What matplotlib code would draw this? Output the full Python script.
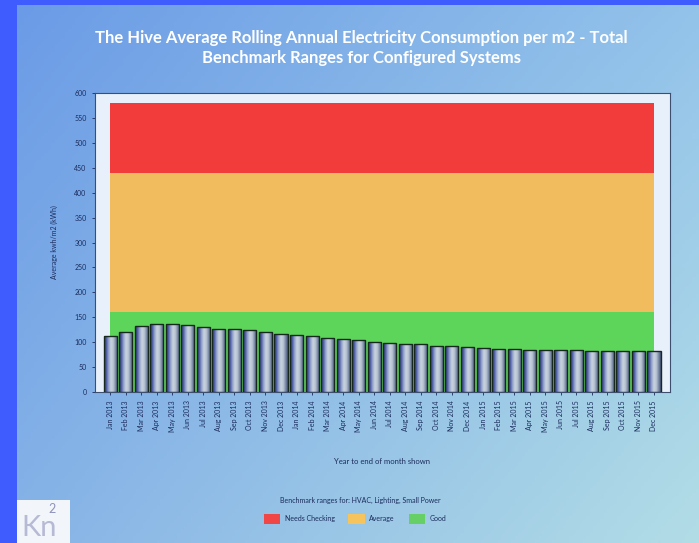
import numpy as np
import matplotlib
matplotlib.use("Agg")
import matplotlib.pyplot as plt
from matplotlib.colors import LinearSegmentedColormap, to_rgb
from matplotlib.patches import Patch, Rectangle

plt.rcParams['font.family'] = ['Lato', 'DejaVu Sans']

# Rolling annual electricity use per m2, Jan 2013 - Dec 2015
months = ['Jan', 'Feb', 'Mar', 'Apr', 'May', 'Jun',
          'Jul', 'Aug', 'Sep', 'Oct', 'Nov', 'Dec']
years = [2013, 2014, 2015]
labels = [f'{m} {y}' for y in years for m in months]
consumption = [112, 120, 132, 137, 137, 135, 130, 127, 126, 124, 120, 117,
               115, 112, 108, 107, 104, 100, 98, 96, 96, 92, 92, 90,
               88, 87, 87, 85, 85, 84, 84, 83, 83, 82, 82, 82]

# Benchmark bands (kWh/m2)
good_max = 160
average_max = 440
checking_max = 580
band_names = ['Needs Checking', 'Average', 'Good']
band_colors = ['#f23c3c', '#f0bc5e', '#5dd45a']

W, H = 699, 543
fig = plt.figure(figsize=(W / 100, H / 100), dpi=100)
fig.patch.set_facecolor('#3f5dff')

# gradient panel behind everything
bg = fig.add_axes([17 / W, 0, 1 - 17 / W, 1 - 5 / H], zorder=-10)
tl, tr = np.array(to_rgb('#6b9be6')), np.array(to_rgb('#93c3ea'))
bl, br = np.array(to_rgb('#86b3e6')), np.array(to_rgb('#b2dde6'))
u = np.linspace(0, 1, 200)[None, :, None]
v = np.linspace(0, 1, 160)[:, None, None]
grad = (1 - v) * ((1 - u) * tl + u * tr) + v * ((1 - u) * bl + u * br)
bg.imshow(grad, aspect='auto', extent=[0, 1, 0, 1], origin='upper')
bg.axis('off')

ax = fig.add_axes([95 / W, 1 - 392 / H, 575 / W, 299 / H])
ax.set_facecolor('#e8f1fb')
x = np.arange(len(labels))

ax.fill_between(x, average_max, checking_max, color=band_colors[0], lw=0, zorder=1)
ax.fill_between(x, good_max, average_max, color=band_colors[1], lw=0, zorder=1)
ax.fill_between(x, 0, good_max, color=band_colors[2], lw=0, zorder=1)

# shaded cylinder-style bars
bar_cmap = LinearSegmentedColormap.from_list(
    'bar', ['#2a3670', '#4d5ca4', '#97a6cc', '#c9d3de', '#b9c5d2', '#7d8ca8', '#44547a'])
shade = np.linspace(0, 1, 64)[None, :]
width = 0.84
bars = ax.bar(x, consumption, width, facecolor='none',
              edgecolor='#17291f', linewidth=1.0, zorder=4)
for b, val in zip(bars, consumption):
    im = ax.imshow(shade, cmap=bar_cmap, aspect='auto', zorder=3,
                   extent=[b.get_x(), b.get_x() + b.get_width(), 0, val])
    im.set_clip_path(b)

ax.set_xlim(-0.97, 36.03)
ax.set_ylim(0, 600)
ax.set_yticks(np.arange(0, 601, 50))
ax.set_xticks(x)
ax.set_xticklabels(labels, rotation=90)
ax.tick_params(axis='both', labelsize=5, colors='#1b2c5c', length=2.5, width=0.6)
for s in ax.spines.values():
    s.set_color('#3c4f6e')
    s.set_linewidth(0.8)

ax.set_ylabel('Average kwh/m2 (kWh)', fontsize=5, color='#1b2c5c', labelpad=12)
fig.text(382 / W, 1 - 462 / H, 'Year to end of month shown', fontsize=5.5,
         color='#1b2c5c', ha='center', va='center')

fig.text(361 / W, 1 - 38 / H,
         'The Hive Average Rolling Annual Electricity Consumption per m2 - Total',
         fontsize=12, fontweight='bold', color='white', ha='center', va='center')
fig.text(361 / W, 1 - 58 / H, 'Benchmark Ranges for Configured Systems',
         fontsize=12, fontweight='bold', color='white', ha='center', va='center')

fig.text(360 / W, 1 - 500 / H, 'Benchmark ranges for: HVAC, Lighting, Small Power',
         fontsize=5, color='#1b2c5c', ha='center', va='center')
handles = [Patch(facecolor=c, edgecolor='none') for c in ['#f04646', '#f5c45c', '#66d066']]
fig.legend(handles, band_names, loc='center', ncol=3,
           bbox_to_anchor=(355 / W, 1 - 519 / H), frameon=False, fontsize=5,
           labelcolor='#1b2c5c', handlelength=2.4, handleheight=1.8,
           columnspacing=2.0, handletextpad=0.6)

# logo tile
fig.patches.append(Rectangle((17 / W, 0), 53 / W, 43 / H, transform=fig.transFigure,
                             facecolor='#f2f5fa', edgecolor='none'))
fig.text(39 / W, 1 - 528 / H, 'Kn', fontsize=21, color='#b7bad5',
         ha='center', va='center')
fig.text(52 / W, 1 - 509 / H, '2', fontsize=9, color='#8e93bb',
         ha='center', va='center')

fig.savefig('out.png', dpi=100, facecolor=fig.get_facecolor())
